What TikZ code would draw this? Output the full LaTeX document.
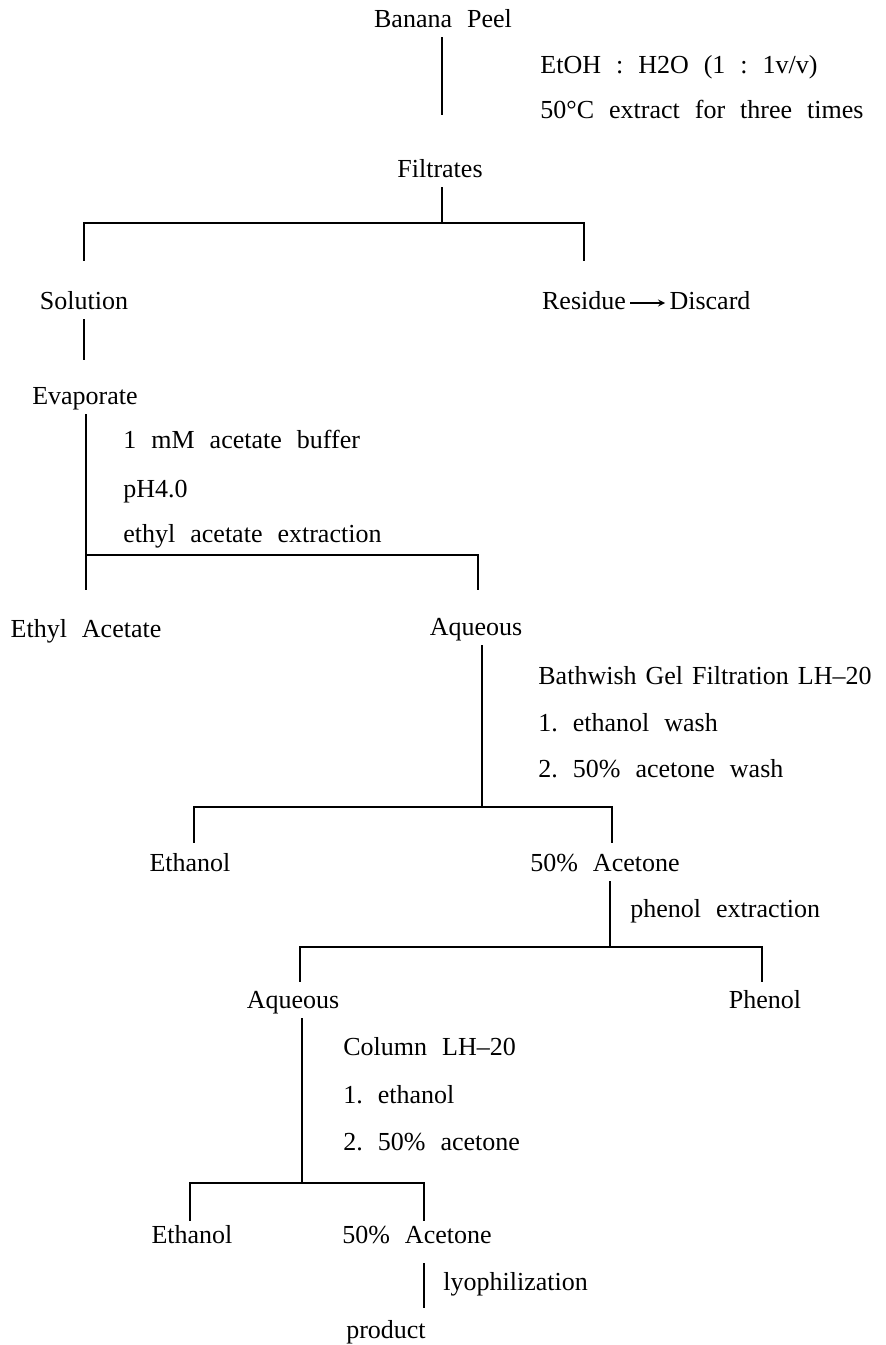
\documentclass[tikz,border=0pt]{standalone}
\usepackage{fontspec}
\setmainfont{Liberation Serif}
\usetikzlibrary{calc,arrows}
\newcommand\flowfont{\fontsize{13}{15}\selectfont\frenchspacing\spaceskip=7.5pt plus 2pt minus 1pt\relax}

\begin{document}
\begin{tikzpicture}[x=0.5pt,y=-0.5pt,
		every node/.style={font=\flowfont, text height=9pt, text depth=3pt, inner sep=2pt},
		note/.style={anchor=west, inner sep=0pt},
		tree/.style={line width=0.9pt}]
			\useasboundingbox (0,0) rectangle (886,1345);
			\node (peel) at (443,21) {Banana Peel};
			\node[note] (etoh) at (540,67) {EtOH : H2O (1 : 1v/v)};
			\node[note] (temp) at (540,112) {50°C extract for three times};
			\node (filt) at (440,171) {Filtrates};
			\coordinate (j1) at (442,223);
			\coordinate (j1r) at (584,223);
			\node (sol) at (84,303) {Solution};
			\node (res) at (584,303) {Residue};
			\node (disc) at (710,303) {Discard};
			\node (evap) at (85,398) {Evaporate};
			\node[note] (buf) at (123,442) {1 mM acetate buffer};
			\node[note] (ph) at (123,491) {pH4.0};
			\node[note] (ext) at (123,536) {ethyl acetate extraction};
			\coordinate (j2) at (86,555);
			\coordinate (j2r) at (478,555);
			\node (etac) at (86,631) {Ethyl Acetate};
			\node (aq) at (476,629) {Aqueous};
			\node[note] (gel) at (538,678) {\spaceskip=4.5pt plus 1pt\relax Bathwish Gel Filtration LH–20};
			\node[note] (wash1) at (538,725) {1. ethanol wash};
			\node[note] (wash2) at (538,771) {2. 50\% acetone wash};
			\coordinate (j3) at (482,807);
			\coordinate (j3l) at (194,807);
			\coordinate (j3r) at (612,807);
			\node (eth) at (190,865) {Ethanol};
			\node (ac) at (605,865) {50\% Acetone};
			\node[note] (phex) at (630,911) {phenol extraction};
			\coordinate (j4) at (610,947);
			\coordinate (j4l) at (300,947);
			\coordinate (j4r) at (762,947);
			\node (aq2) at (293,1002) {Aqueous};
			\node (phen) at (765,1002) {Phenol};
			\node[note] (col) at (343,1049) {Column LH–20};
			\node[note] (col1) at (343,1097) {1. ethanol};
			\node[note] (col2) at (343,1144) {2. 50\% acetone};
			\coordinate (j5) at (302,1183);
			\coordinate (j5l) at (190,1183);
			\coordinate (j5r) at (424,1183);
			\node (eth2) at (192,1237) {Ethanol};
			\node (ac2) at (417,1237) {50\% Acetone};
			\node[note] (lyo) at (443,1284) {lyophilization};
			\node (prod) at (386,1332) {product};
			
			\draw[tree, shorten >=20pt] (peel.south -| j1) -- (filt.north -| j1);
			\draw[tree] (filt.south -| j1) -- (j1);
			\draw[tree, shorten <=13pt, shorten >=13pt] (sol.north) |- (j1) -- (j1r) -- (res.north);
			\draw[line width=0.6pt, -stealth] (res) -- (disc);
			\draw[tree, shorten >=11pt] (sol.south) -- (evap.north -| sol.south);
			\draw[tree, shorten >=12.5pt] (evap.south -| j2) -- (etac.north -| j2);
			\draw[tree, shorten >=11.5pt] (j2) -- (j2r) -- (aq.north -| j2r);
			\draw[tree] (aq.south -| j3) -- (j3);
			\draw[tree, shorten >=3pt] (j3) -- (j3l) -- (eth.north -| j3l);
			\draw[tree, shorten >=3pt] (j3) -- (j3r) -- (ac.north -| j3r);
			\draw[tree] (ac.south -| j4) -- (j4);
			\draw[tree, shorten >=2pt] (j4) -- (j4l) -- (aq2.north -| j4l);
			\draw[tree, shorten >=2pt] (j4) -- (j4r) -- (phen.north -| j4r);
			\draw[tree] (aq2.south -| j5) -- (j5);
			\draw[tree] (j5) -- (j5l) -- (eth2.north -| j5l);
			\draw[tree] (j5) -- (j5r) -- (ac2.north -| j5r);
			\draw[tree, shorten <=5pt, shorten >=4pt] (ac2.south -| j5r) -- (prod.north -| j5r);
			\end{tikzpicture}
\end{document}
